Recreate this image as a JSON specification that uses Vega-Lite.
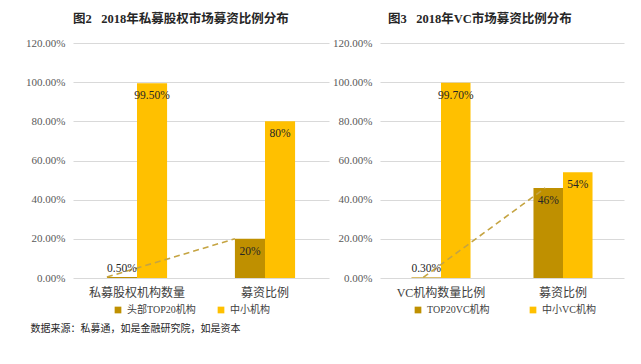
{
  "$schema": "https://vega.github.io/schema/vega-lite/v6.json",
  "background": "white",
  "padding": {"left": 25, "top": 12, "right": 5, "bottom": 5},
  "config": {
    "view": {"stroke": null},
    "font": "Liberation Serif, Noto Sans CJK SC",
    "axis": {"labelFont": "Liberation Serif, Noto Sans CJK SC"},
    "legend": {"labelFont": "Liberation Serif, Noto Sans CJK SC"}
  },
  "datasets": {
    "pe": [
      {"cat": "私募股权机构数量", "series": "头部TOP20机构", "value": 0.005, "label": "0.50%"},
      {"cat": "私募股权机构数量", "series": "中小机构", "value": 0.995, "label": "99.50%"},
      {"cat": "募资比例", "series": "头部TOP20机构", "value": 0.20, "label": "20%"},
      {"cat": "募资比例", "series": "中小机构", "value": 0.80, "label": "80%"}
    ],
    "vc": [
      {"cat": "VC机构数量比例", "series": "TOP20VC机构", "value": 0.003, "label": "0.30%"},
      {"cat": "VC机构数量比例", "series": "中小VC机构", "value": 0.997, "label": "99.70%"},
      {"cat": "募资比例", "series": "TOP20VC机构", "value": 0.46, "label": "46%"},
      {"cat": "募资比例", "series": "中小VC机构", "value": 0.54, "label": "54%"}
    ]
  },
  "title": {
    "text": "数据来源：私募通，如是金融研究院，如是资本",
    "orient": "bottom",
    "anchor": "start",
    "fontSize": 10,
    "fontWeight": "normal",
    "color": "#262626",
    "font": "Noto Sans CJK SC",
    "offset": 9,
    "dx": 5
  },
  "spacing": 3,
  "resolve": {
    "scale": {"x": "independent", "y": "independent", "color": "independent", "xOffset": "independent"},
    "legend": {"color": "independent"}
  },
  "hconcat": [
    {
      "width": 256,
      "height": 235,
      "title": {"text": "图2\u2002\u00a02018年私募股权市场募资比例分布", "anchor": "start", "frame": "group", "fontSize": 12.5, "fontWeight": "bold", "color": "#262626", "offset": 12, "dx": 0},
      "data": {"name": "pe"},
      "encoding": {
        "x": {"field": "cat", "type": "nominal", "sort": ["私募股权机构数量", "募资比例"],
          "scale": {"paddingInner": 0.53, "paddingOuter": 0.265},
          "axis": {"title": null, "labelAngle": 0, "domain": false, "ticks": false, "labelFontSize": 12, "labelColor": "#404040", "labelPadding": 9}},
        "y": {"field": "value", "type": "quantitative", "scale": {"domain": [0, 1.2]},
          "axis": {"title": null, "format": ".2%", "values": [0, 0.2, 0.4, 0.6, 0.8, 1.0, 1.2], "domain": false, "ticks": false, "gridColor": "#D9D9D9", "labelFontSize": 11, "labelColor": "#595959", "labelPadding": 8}}
      },
      "layer": [
        {
          "mark": {"type": "bar"},
          "encoding": {
            "xOffset": {"field": "series", "type": "nominal", "sort": ["头部TOP20机构", "中小机构"], "scale": {"paddingInner": 0, "paddingOuter": 0}},
            "color": {"field": "series", "type": "nominal",
              "scale": {"domain": ["头部TOP20机构", "中小机构"], "range": ["#BF9000", "#FFC000"]},
              "legend": {"title": null, "orient": "none", "legendX": 40, "legendY": 262, "direction": "horizontal", "symbolType": "square", "symbolSize": 45, "symbolStrokeWidth": 0, "labelFontSize": 10, "labelColor": "#404040", "columnPadding": 20}}
          }
        },
        {
          "transform": [{"filter": "datum.series == '头部TOP20机构'"}],
          "mark": {"type": "line", "color": "#C5A442", "strokeDash": [6, 4], "strokeWidth": 1.6},
          "encoding": {"x": {"field": "cat", "type": "nominal", "sort": ["私募股权机构数量", "募资比例"], "bandPosition": 0}}
        },
        {
          "transform": [{"filter": "datum.value > 0.05"}],
          "mark": {"type": "text", "baseline": "top", "dy": 7, "fontSize": 11.5, "color": "#262626"},
          "encoding": {
            "xOffset": {"field": "series", "type": "nominal", "sort": ["头部TOP20机构", "中小机构"]},
            "text": {"field": "label"}
          }
        },
        {
          "transform": [{"filter": "datum.value <= 0.05"}],
          "mark": {"type": "text", "baseline": "bottom", "dy": -3, "fontSize": 11.5, "color": "#262626"},
          "encoding": {
            "xOffset": {"field": "series", "type": "nominal", "sort": ["头部TOP20机构", "中小机构"]},
            "text": {"field": "label"}
          }
        }
      ]
    },
    {
      "width": 244,
      "height": 235,
      "title": {"text": "图3\u2002\u00a02018年VC市场募资比例分布", "anchor": "start", "frame": "group", "fontSize": 12.5, "fontWeight": "bold", "color": "#262626", "offset": 12, "dx": 8},
      "data": {"name": "vc"},
      "encoding": {
        "x": {"field": "cat", "type": "nominal", "sort": ["VC机构数量比例", "募资比例"],
          "scale": {"paddingInner": 0.516, "paddingOuter": 0.258},
          "axis": {"title": null, "labelAngle": 0, "domain": false, "ticks": false, "labelFontSize": 12, "labelColor": "#404040", "labelPadding": 9}},
        "y": {"field": "value", "type": "quantitative", "scale": {"domain": [0, 1.2]},
          "axis": {"title": null, "format": ".2%", "values": [0, 0.2, 0.4, 0.6, 0.8, 1.0, 1.2], "domain": false, "ticks": false, "gridColor": "#D9D9D9", "labelFontSize": 11, "labelColor": "#595959", "labelPadding": 8}}
      },
      "layer": [
        {
          "mark": {"type": "bar"},
          "encoding": {
            "xOffset": {"field": "series", "type": "nominal", "sort": ["TOP20VC机构", "中小VC机构"], "scale": {"paddingInner": 0, "paddingOuter": 0}},
            "color": {"field": "series", "type": "nominal",
              "scale": {"domain": ["TOP20VC机构", "中小VC机构"], "range": ["#BF9000", "#FFC000"]},
              "legend": {"title": null, "orient": "none", "legendX": 33, "legendY": 262, "direction": "horizontal", "symbolType": "square", "symbolSize": 45, "symbolStrokeWidth": 0, "labelFontSize": 10, "labelColor": "#404040", "columnPadding": 38}}
          }
        },
        {
          "transform": [{"filter": "datum.series == 'TOP20VC机构'"}],
          "mark": {"type": "line", "color": "#C5A442", "strokeDash": [6, 4], "strokeWidth": 1.6},
          "encoding": {"x": {"field": "cat", "type": "nominal", "sort": ["VC机构数量比例", "募资比例"], "bandPosition": 0.2}}
        },
        {
          "transform": [{"filter": "datum.value > 0.05"}],
          "mark": {"type": "text", "baseline": "top", "dy": 7, "fontSize": 11.5, "color": "#262626"},
          "encoding": {
            "xOffset": {"field": "series", "type": "nominal", "sort": ["TOP20VC机构", "中小VC机构"]},
            "text": {"field": "label"}
          }
        },
        {
          "transform": [{"filter": "datum.value <= 0.05"}],
          "mark": {"type": "text", "baseline": "bottom", "dy": -3, "fontSize": 11.5, "color": "#262626"},
          "encoding": {
            "xOffset": {"field": "series", "type": "nominal", "sort": ["TOP20VC机构", "中小VC机构"]},
            "text": {"field": "label"}
          }
        }
      ]
    }
  ]
}
